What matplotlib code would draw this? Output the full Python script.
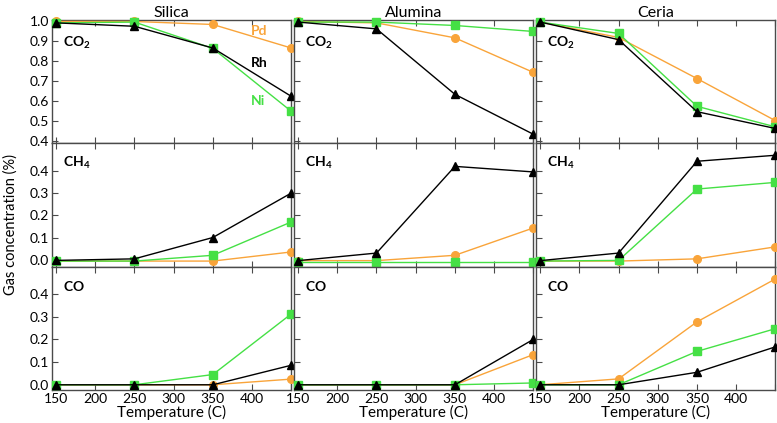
import matplotlib
matplotlib.use("Agg")
import matplotlib.pyplot as plt

plt.rcParams['font.family'] = ['Lato', 'DejaVu Sans']
plt.rcParams['mathtext.fontset'] = 'custom'
plt.rcParams['mathtext.rm'] = 'Lato'
plt.rcParams['mathtext.bf'] = 'Lato:bold'

temps = [150, 250, 350, 450]
supports = ["Silica", "Alumina", "Ceria"]
gases = ["CO2", "CH4", "CO"]
gas_labels = [r"$\mathbf{CO}_{\mathbf{2}}$", r"$\mathbf{CH}_{\mathbf{4}}$", r"$\mathbf{CO}$"]

# Silica
silica_co2_pd = [1.00, 1.00, 0.985, 0.867]
silica_co2_rh = [0.993, 0.976, 0.867, 0.625]
silica_co2_ni = [0.993, 0.997, 0.865, 0.550]
silica_ch4_pd = [-0.006, -0.006, -0.006, 0.035]
silica_ch4_rh = [-0.003, 0.004, 0.100, 0.300]
silica_ch4_ni = [-0.006, -0.006, 0.020, 0.170]
silica_co_pd = [0.0, 0.0, 0.0, 0.025]
silica_co_rh = [0.0, 0.0, 0.0, 0.086]
silica_co_ni = [0.0, 0.0, 0.045, 0.312]

# Alumina
alumina_co2_pd = [1.00, 0.993, 0.918, 0.745]
alumina_co2_rh = [0.997, 0.963, 0.635, 0.435]
alumina_co2_ni = [0.997, 0.997, 0.980, 0.950]
alumina_ch4_pd = [-0.004, -0.004, 0.020, 0.143]
alumina_ch4_rh = [-0.004, 0.030, 0.420, 0.395]
alumina_ch4_ni = [-0.008, -0.008, -0.008, -0.008]
alumina_co_pd = [0.0, 0.0, 0.0, 0.133]
alumina_co_rh = [0.0, 0.0, 0.0, 0.200]
alumina_co_ni = [0.0, 0.0, 0.0, 0.008]

# Ceria
ceria_co2_pd = [0.997, 0.920, 0.714, 0.503]
ceria_co2_rh = [0.997, 0.909, 0.548, 0.464]
ceria_co2_ni = [0.997, 0.940, 0.575, 0.472]
ceria_ch4_pd = [-0.006, -0.006, 0.004, 0.058]
ceria_ch4_rh = [-0.004, 0.030, 0.443, 0.470]
ceria_ch4_ni = [-0.006, -0.003, 0.318, 0.348]
ceria_co_pd = [0.0, 0.026, 0.277, 0.466]
ceria_co_rh = [0.0, 0.0, 0.055, 0.167]
ceria_co_ni = [0.0, 0.0, 0.147, 0.247]

data = {
    ("Silica", "CO2"): (silica_co2_pd, silica_co2_rh, silica_co2_ni),
    ("Silica", "CH4"): (silica_ch4_pd, silica_ch4_rh, silica_ch4_ni),
    ("Silica", "CO"): (silica_co_pd, silica_co_rh, silica_co_ni),
    ("Alumina", "CO2"): (alumina_co2_pd, alumina_co2_rh, alumina_co2_ni),
    ("Alumina", "CH4"): (alumina_ch4_pd, alumina_ch4_rh, alumina_ch4_ni),
    ("Alumina", "CO"): (alumina_co_pd, alumina_co_rh, alumina_co_ni),
    ("Ceria", "CO2"): (ceria_co2_pd, ceria_co2_rh, ceria_co2_ni),
    ("Ceria", "CH4"): (ceria_ch4_pd, ceria_ch4_rh, ceria_ch4_ni),
    ("Ceria", "CO"): (ceria_co_pd, ceria_co_rh, ceria_co_ni),
}

metals = ["Pd", "Rh", "Ni"]
colors = {"Pd": "#F9A43A", "Rh": "#000000", "Ni": "#45E045"}
markers = {"Pd": "o", "Rh": "^", "Ni": "s"}
zorders = {"Pd": 3, "Ni": 4, "Rh": 5}

ylims = [(0.39, 1.008), (-0.031, 0.524), (-0.023, 0.52)]
yticks = [[0.4, 0.5, 0.6, 0.7, 0.8, 0.9, 1.0],
          [0.0, 0.1, 0.2, 0.3, 0.4],
          [0.0, 0.1, 0.2, 0.3, 0.4]]
xticks = [150, 200, 250, 300, 350, 400, 450]
xticklabels = ["150", "200", "250", "300", "350", "400", ""]
gas_label_y = [0.815, 0.845, 0.84]

fig, axes = plt.subplots(3, 3, figsize=(7.77, 4.23), dpi=100)
fig.subplots_adjust(left=0.067, right=0.998, top=0.953, bottom=0.078,
                    hspace=0.0, wspace=0.012)

spine_col = "#4a4a4a"
for r, gas in enumerate(gases):
    for c, sup in enumerate(supports):
        ax = axes[r, c]
        vals = data[(sup, gas)]
        for m, v in zip(metals, vals):
            ax.plot(temps, v, color=colors[m], marker=markers[m], ms=5.5,
                    lw=1.0, zorder=zorders[m], clip_on=False)
        ax.set_xlim(145, 450)
        ax.set_ylim(*ylims[r])
        ax.set_xticks(xticks)
        ax.set_yticks(yticks[r])
        ax.tick_params(direction="in", top=True, bottom=True, left=True,
                       right=False, length=4, width=0.8, color=spine_col,
                       labelsize=10, pad=2)
        if r < 2:
            ax.set_xticklabels([])
        else:
            ax.set_xticklabels(xticklabels)
            ax.set_xlabel("Temperature (C)", fontsize=11, labelpad=0)
        if c > 0:
            ax.set_yticklabels([])
        for s in ax.spines.values():
            s.set_color(spine_col)
            s.set_linewidth(1.0)
        ax.text(0.047, gas_label_y[r], gas_labels[r], transform=ax.transAxes,
                fontsize=10, fontweight="bold", color="black", va="center")
        if r == 0:
            ax.set_title(sup, fontsize=11.5, pad=2)

# metal labels in Silica CO2 panel
axes[0, 0].text(0.83, 0.88, "Pd", transform=axes[0, 0].transAxes,
                color=colors["Pd"], fontsize=10, fontweight="bold")
axes[0, 0].text(0.83, 0.62, "Rh", transform=axes[0, 0].transAxes,
                color=colors["Rh"], fontsize=10, fontweight="bold")
axes[0, 0].text(0.83, 0.31, "Ni", transform=axes[0, 0].transAxes,
                color=colors["Ni"], fontsize=10, fontweight="bold")

fig.text(0.014, 0.47, "Gas concentration (%)", rotation=90,
         va="center", ha="center", fontsize=10.5)

fig.savefig("out.png", dpi=100)
